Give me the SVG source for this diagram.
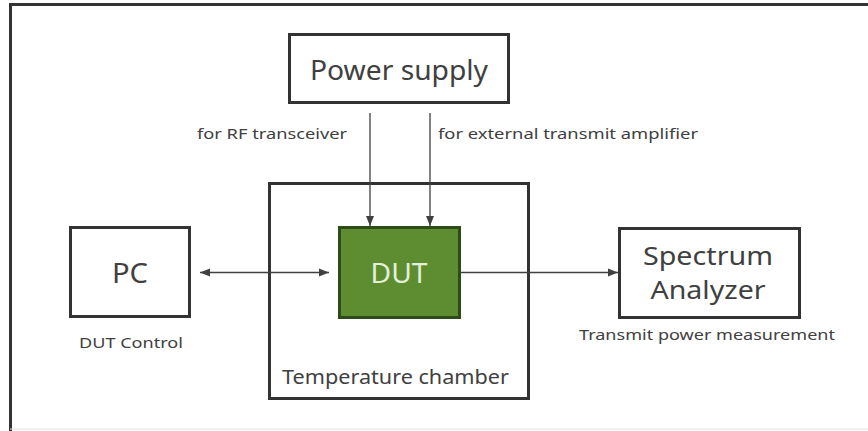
<svg xmlns="http://www.w3.org/2000/svg" width="868" height="431" viewBox="0 0 868 431">
<defs>
<style>
.box{fill:#fff;stroke:#333;stroke-width:3}
.t{font-family:"Noto Sans","Liberation Sans",sans-serif;fill:#404040}
.big{font-size:28px}
.mid{font-size:25px}
.sm{font-size:14px}
.ln{stroke:#404040;stroke-width:1.3;fill:none}
</style>
<marker id="ah" viewBox="0 0 10 10" refX="10" refY="5" markerWidth="10" markerHeight="10" markerUnits="userSpaceOnUse" orient="auto-start-reverse">
<path d="M0,1 L10,5 L0,9 Z" fill="#404040"/>
</marker>
</defs>
<rect x="0" y="0" width="868" height="431" fill="#fff"/>
<g id="frame">
<path d="M10.5,431 L10.5,4.5 L868,4.5" fill="none" stroke="#333" stroke-width="3"/>
<line x1="10" y1="429" x2="868" y2="429" stroke="#e4e4e4" stroke-width="1"/>
</g>
<g id="chamber">
<rect class="box" x="269.5" y="183.5" width="259" height="215"/>
<text class="t" x="282" y="384" font-size="19" textLength="227" lengthAdjust="spacingAndGlyphs">Temperature chamber</text>
</g>
<g id="power">
<rect class="box" x="289.5" y="34.5" width="219" height="68"/>
<text class="t big" x="399" y="80" text-anchor="middle" textLength="178" lengthAdjust="spacingAndGlyphs">Power supply</text>
</g>
<g id="pc">
<rect class="box" x="70.5" y="227.5" width="119" height="89"/>
<text class="t big" x="130" y="283" text-anchor="middle" textLength="36" lengthAdjust="spacingAndGlyphs">PC</text>
<text class="t sm" x="131" y="348" text-anchor="middle" textLength="104" lengthAdjust="spacingAndGlyphs">DUT Control</text>
</g>
<g id="dut">
<rect x="339.5" y="227.5" width="120" height="90" fill="#5e8d31" stroke="#2e4b1a" stroke-width="3"/>
<text class="t big" x="399" y="283" text-anchor="middle" style="fill:#e2f0d9" textLength="57" lengthAdjust="spacingAndGlyphs">DUT</text>
</g>
<g id="analyzer">
<rect class="box" x="619.5" y="228.5" width="180" height="89"/>
<text class="t mid" x="708" y="265" text-anchor="middle" textLength="130" lengthAdjust="spacingAndGlyphs">Spectrum</text>
<text class="t mid" x="708" y="299" text-anchor="middle" textLength="115" lengthAdjust="spacingAndGlyphs">Analyzer</text>
<text class="t sm" x="707" y="340" text-anchor="middle" textLength="256" lengthAdjust="spacingAndGlyphs">Transmit power measurement</text>
</g>
<g id="connectors">
<line class="ln" x1="370" y1="113" x2="370" y2="226" marker-end="url(#ah)"/>
<line class="ln" x1="430" y1="113" x2="430" y2="226" marker-end="url(#ah)"/>
<line class="ln" x1="200" y1="272.5" x2="329" y2="272.5" marker-start="url(#ah)" marker-end="url(#ah)"/>
<line class="ln" x1="461" y1="272.5" x2="618" y2="272.5" marker-end="url(#ah)"/>
<text class="t sm" x="347" y="139" text-anchor="end" textLength="150" lengthAdjust="spacingAndGlyphs">for RF transceiver</text>
<text class="t sm" x="438" y="139" textLength="260" lengthAdjust="spacingAndGlyphs">for external transmit amplifier</text>
</g>
</svg>
